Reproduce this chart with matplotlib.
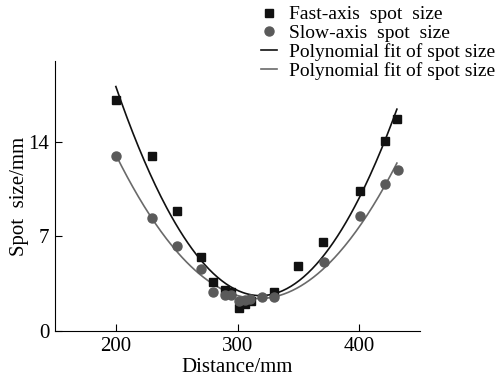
import numpy as np
import matplotlib
matplotlib.use('Agg')
import matplotlib.pyplot as plt

plt.rcParams['font.family'] = ['Liberation Serif', 'DejaVu Serif']

# fast-axis spot size (mm) vs distance (mm)
fast_x = [200, 230, 250, 270, 280, 290, 295, 301, 306, 311, 330, 350, 370, 401, 421, 431]
fast_y = [17.1, 13.0, 8.9, 5.5, 3.65, 3.0, 2.9, 1.7, 2.0, 2.2, 2.9, 4.8, 6.6, 10.4, 14.05, 15.7]

# slow-axis spot size
slow_x = [200, 230, 250, 270, 280, 290, 295, 301, 306, 310, 320, 330, 371, 401, 421, 432]
slow_y = [13.0, 8.4, 6.3, 4.6, 2.9, 2.7, 2.7, 2.2, 2.3, 2.4, 2.5, 2.5, 5.1, 8.5, 10.9, 11.9]

xticks = [200, 300, 400]
yticks = [0, 7, 14]

fig = plt.figure(figsize=(5.02, 3.83), dpi=100)
ax = fig.add_axes([0.1096, 0.1358, 0.7271, 0.7049])

deg = 2
pf = np.polyfit(fast_x, fast_y, deg)
ps = np.polyfit(slow_x, slow_y, deg)
xf = np.linspace(200, 431, 200)
xs = np.linspace(200, 431, 200)

ax.plot(fast_x, fast_y, 's', color='#111111', ms=6, label='Fast-axis  spot  size', zorder=3)
ax.plot(slow_x, slow_y, 'o', color='#5a5a5a', ms=6.5, label='Slow-axis  spot  size', zorder=3)
ax.plot(xf, np.polyval(pf, xf), '-', color='#111111', lw=1.2, label='Polynomial fit of spot size')
ax.plot(xs, np.polyval(ps, xs), '-', color='#6a6a6a', lw=1.2, label='Polynomial fit of spot size')

ax.set_xlim(150, 450)
ax.set_ylim(0, 20)
ax.set_xticks(xticks)
ax.set_yticks(yticks)
ax.tick_params(direction='in', length=5, labelsize=15, pad=4)
for s in ['top', 'right']:
    ax.spines[s].set_visible(False)
ax.set_xlabel('Distance/mm', fontsize=15, labelpad=2)
ax.set_ylabel('Spot  size/mm', fontsize=15, labelpad=0)

fig.legend(loc='upper left', bbox_to_anchor=(0.505, 1.005), frameon=False,
           fontsize=14, handlelength=0.8, handletextpad=0.6,
           labelspacing=0.05, borderaxespad=0)

fig.savefig('out.png', dpi=100)
